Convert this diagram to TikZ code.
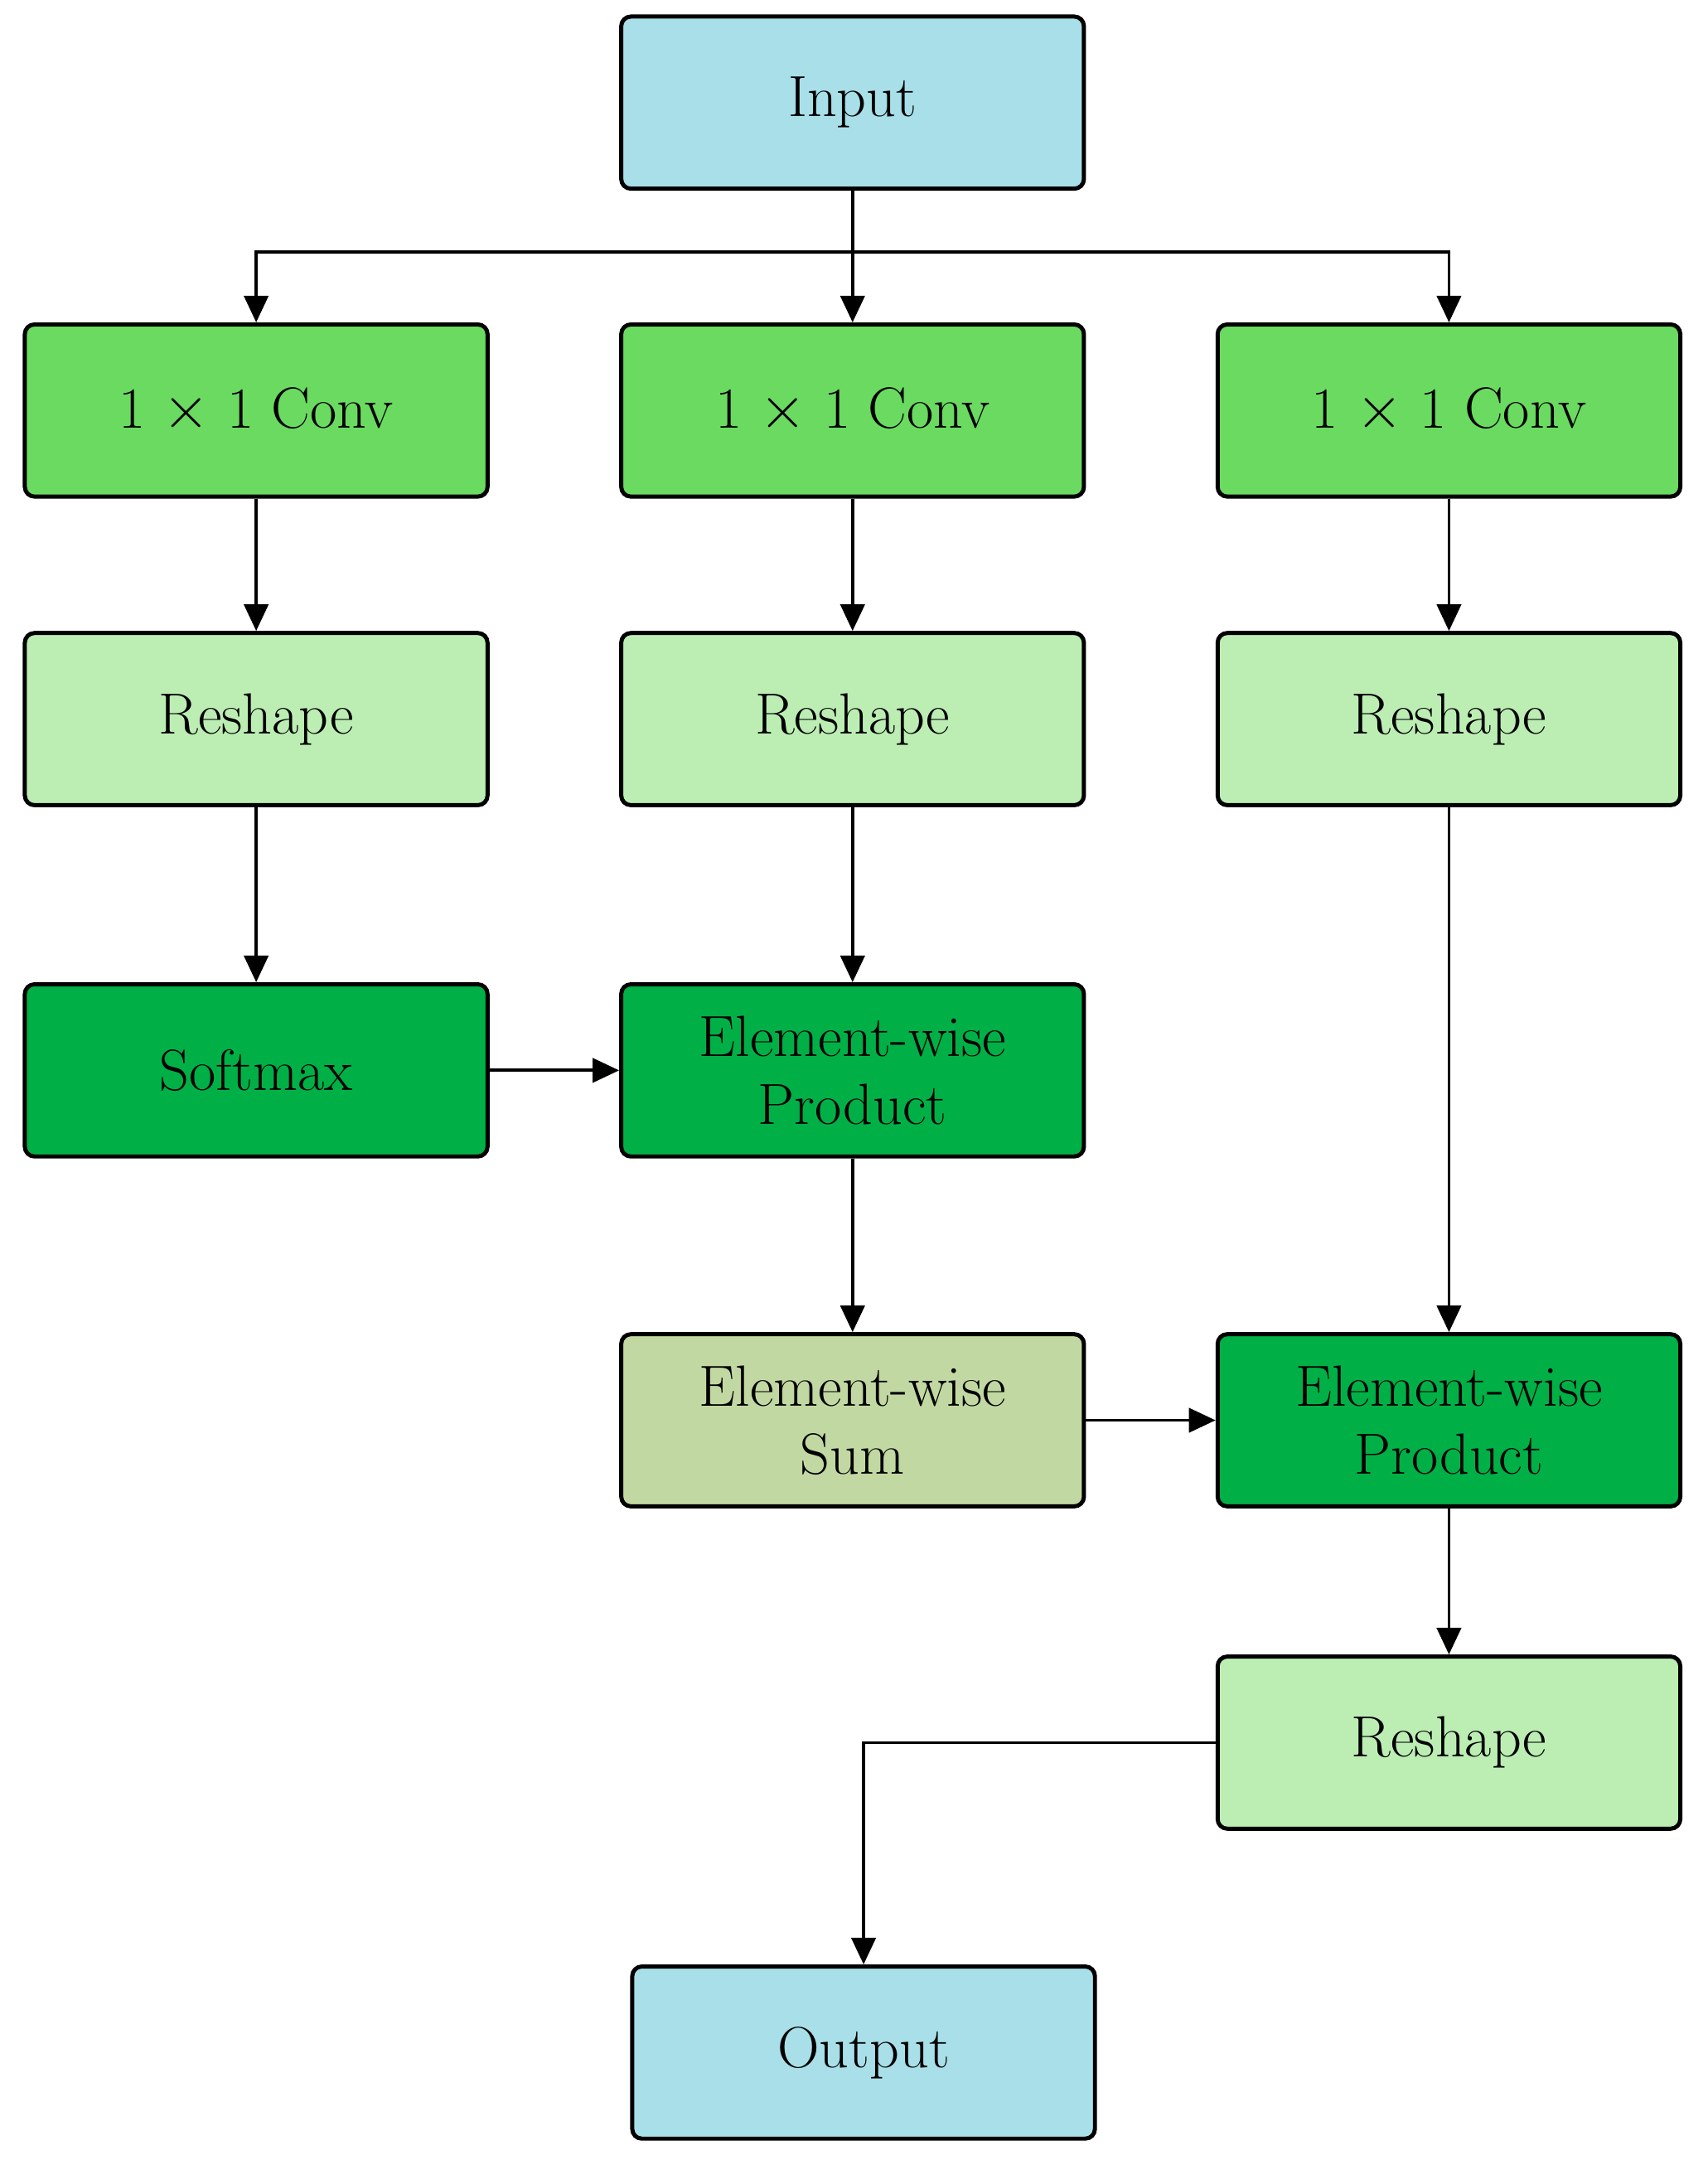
\documentclass[tikz,border=0pt]{standalone}
\usetikzlibrary{arrows.meta}
\definecolor{inblue}{RGB}{168,223,232}
\definecolor{convgreen}{RGB}{106,218,96}
\definecolor{reshapegreen}{RGB}{188,238,180}
\definecolor{prodgreen}{RGB}{0,176,70}
\definecolor{sumgreen}{RGB}{194,216,162}
\begin{document}
\begin{tikzpicture}[x=0.02cm, y=-0.02cm,
  block/.style={draw, line width=1.7pt, rounded corners=4pt, minimum width=6.72cm,
    minimum height=2.5cm, align=center, font=\fontsize{24}{28}\selectfont},
  link/.style={line width=1.3pt, -{Triangle[length=11pt,width=10pt]}}]
\useasboundingbox (0,0) rectangle (1240,1568);
\node[block, fill=inblue] (input) at (619,74.5) {Input};
\node[block, fill=convgreen] (conv1) at (186,298) {1 $\times$ 1 Conv};
\node[block, fill=convgreen] (conv2) at (619,298) {1 $\times$ 1 Conv};
\node[block, fill=convgreen] (conv3) at (1052,298) {1 $\times$ 1 Conv};
\node[block, fill=reshapegreen] (reshape1) at (186,522) {Reshape};
\node[block, fill=reshapegreen] (reshape2) at (619,522) {Reshape};
\node[block, fill=reshapegreen] (reshape3) at (1052,522) {Reshape};
\node[block, fill=prodgreen] (softmax) at (186,777) {Softmax};
\node[block, fill=prodgreen] (prod1) at (619,777) {Element-wise\\Product};
\node[block, fill=sumgreen] (sum) at (619,1031) {Element-wise\\Sum};
\node[block, fill=prodgreen] (prod2) at (1052,1031) {Element-wise\\Product};
\node[block, fill=reshapegreen] (reshape4) at (1052,1265) {Reshape};
\node[block, fill=inblue] (output) at (627,1490) {Output};
\coordinate (split) at (619,183);
\coordinate (turn) at (627,1265);
% split from input
\draw[line width=1.3pt] (input.south) -- (split);
\draw[link] (split) -| (conv1.north);
\draw[link] (split) -- (conv2.north);
\draw[link] (split) -| (conv3.north);
% columns
\draw[link] (conv1) -- (reshape1);
\draw[link] (conv2) -- (reshape2);
\draw[link] (conv3) -- (reshape3);
\draw[link] (reshape1) -- (softmax);
\draw[link] (reshape2) -- (prod1);
\draw[link] (softmax) -- (prod1);
\draw[link] (prod1) -- (sum);
\draw[link] (reshape3) -- (prod2);
\draw[link] (sum) -- (prod2);
\draw[link] (prod2) -- (reshape4);
\draw[link] (reshape4.west) -- (turn) -- (output.north);
\end{tikzpicture}
\end{document}
